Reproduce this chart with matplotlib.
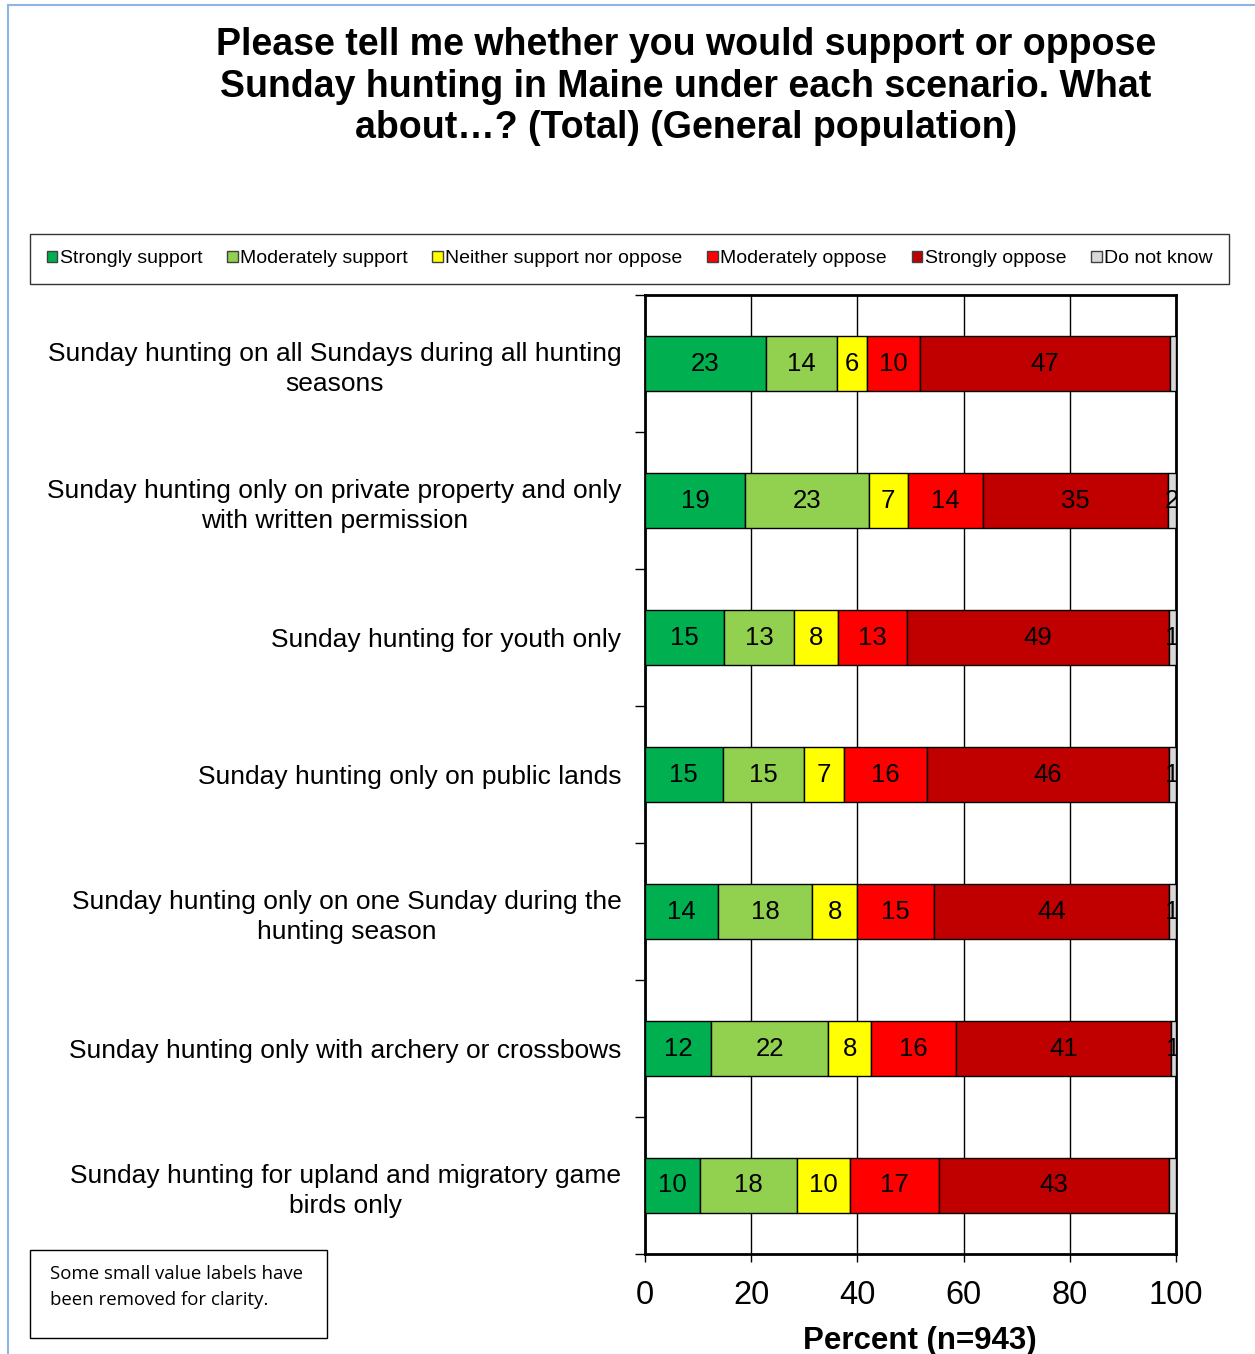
import matplotlib
matplotlib.use("Agg")
import matplotlib.pyplot as plt
from matplotlib.patches import Patch, Rectangle
from matplotlib.lines import Line2D
import numpy as np

plt.rcParams['font.family'] = ['Liberation Sans', 'DejaVu Sans']

categories = [
    "Sunday hunting on all Sundays during all hunting\nseasons",
    "Sunday hunting only on private property and only\nwith written permission",
    "Sunday hunting for youth only",
    "Sunday hunting only on public lands",
    "Sunday hunting only on one Sunday during the\nhunting season",
    "Sunday hunting only with archery or crossbows",
    "Sunday hunting for upland and migratory game\nbirds only",
]
series_names = ["Strongly support", "Moderately support", "Neither support nor oppose",
                "Moderately oppose", "Strongly oppose", "Do not know"]
strongly_support = [22.7, 18.8, 14.9, 14.6, 13.7, 12.4, 10.3]
moderately_support = [13.5, 23.3, 13.1, 15.4, 17.8, 22.1, 18.3]
neither = [5.7, 7.4, 8.4, 7.4, 8.4, 8.1, 10.1]
moderately_oppose = [9.8, 14.2, 13.0, 15.7, 14.6, 15.9, 16.7]
strongly_oppose = [47.1, 34.8, 49.3, 45.6, 44.2, 40.6, 43.2]
do_not_know = [1.2, 1.5, 1.3, 1.3, 1.3, 0.9, 1.4]
dk_label_shown = [False, True, True, True, True, True, False]
colors = ["#00B050", "#92D050", "#FFFF00", "#FF0000", "#C00000", "#D9D9D9"]
x_ticks = [0, 20, 40, 60, 80, 100]

title = ("Please tell me whether you would support or oppose\n"
         "Sunday hunting in Maine under each scenario. What\n"
         "about…? (Total) (General population)")

W, H = 1255, 1354
fig = plt.figure(figsize=(W / 100, H / 100), dpi=100)

ax = fig.add_axes([645 / W, 1 - 1254 / H, (1176 - 645) / W, (1254 - 295) / H])
all_series = [strongly_support, moderately_support, neither, moderately_oppose,
              strongly_oppose, do_not_know]
y = np.arange(len(categories))
left = np.zeros(len(categories))
for si, (vals, col) in enumerate(zip(all_series, colors)):
    vals = np.array(vals)
    ax.barh(y, vals, left=left, height=0.40, color=col, edgecolor='black',
            linewidth=1.0, zorder=3)
    for i, v in enumerate(vals):
        show = True
        if si == 5:
            show = dk_label_shown[i]
        if show:
            ax.text(left[i] + v / 2, y[i], f"{round(v):d}", ha='center', va='center',
                    fontsize=18.5, color='black', zorder=4, clip_on=True)
    left += vals

ax.set_xlim(0, 100)
ax.set_ylim(len(categories) - 0.5, -0.5)
ax.set_xticks(x_ticks)
ax.set_xticklabels([str(t) for t in x_ticks], fontsize=23.5)
ax.tick_params(axis='x', length=6, width=1, pad=13, direction='out')
ax.set_yticks(y)
ax.set_yticklabels(categories, fontsize=19, linespacing=1.3)
for t in ax.get_yticklabels():
    t.set_multialignment('center')
ax.tick_params(axis='y', which='major', length=0, pad=17)
ax.set_yticks(np.arange(len(categories) + 1) - 0.5, minor=True)
ax.tick_params(axis='y', which='minor', length=7, width=1, direction='out')
ax.grid(axis='x', color='black', linewidth=1.0, zorder=0)
ax.set_axisbelow(True)
for s in ax.spines.values():
    s.set_linewidth(2.0)
    s.set_color('black')
ax.set_xlabel("Percent (n=943)", fontsize=22.5, fontweight='bold', labelpad=8)
ax.xaxis.set_label_coords((920 - 645) / (1176 - 645), -0.075)

fig.text(686 / W, 1 - 27 / H, title, ha='center', va='top', fontsize=27,
         fontweight='bold', multialignment='center', linespacing=1.2)

handles = [Patch(facecolor=c, edgecolor='#404040', linewidth=1.0) for c in colors]
leg = fig.legend(handles, series_names, loc='lower left', ncol=6, mode='expand',
                 bbox_to_anchor=(30 / W, 1 - 284 / H, (1229 - 30) / W, (284 - 232) / H),
                 fontsize=14, frameon=True, fancybox=False, handlelength=0.55,
                 handleheight=0.55, handletextpad=0.12, borderaxespad=0,
                 borderpad=0.85, columnspacing=0.8)
leg.get_frame().set_edgecolor('black')
leg.get_frame().set_linewidth(1.0)

# note box
fig.patches.append(Rectangle((30 / W, 1 - 1338 / H), (327 - 30) / W, (1338 - 1250) / H,
                             transform=fig.transFigure, facecolor='white',
                             edgecolor='black', linewidth=1.0))
fig.text(50 / W, 1 - 1265 / H, "Some small value labels have\nbeen removed for clarity.",
         ha='left', va='top', fontsize=13.4, family=['Open Sans', 'DejaVu Sans'],
         linespacing=1.55)

# frame lines
fig.lines.append(Line2D([8 / W, 8 / W], [0, 1 - 5 / H], transform=fig.transFigure,
                        color='#8EB4E3', linewidth=1.5))
fig.lines.append(Line2D([8 / W, 1], [1 - 5 / H, 1 - 5 / H], transform=fig.transFigure,
                        color='#8EB4E3', linewidth=1.5))

fig.savefig("out.png", dpi=100)
